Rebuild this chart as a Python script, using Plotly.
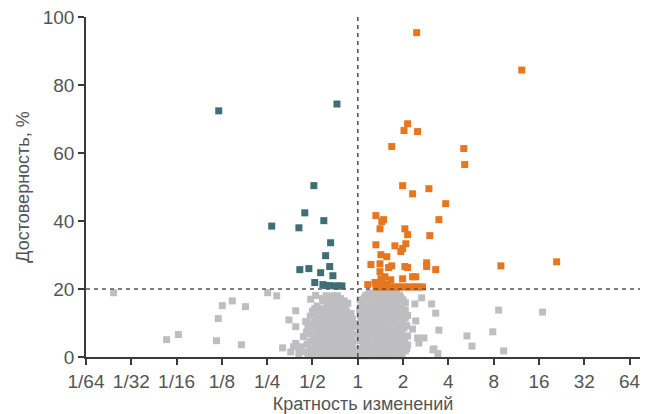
import plotly.graph_objects as go

# x values are log2 fold change, y values are reliability (%)
tick_vals = [-6, -5, -4, -3, -2, -1, 0, 1, 2, 3, 4, 5, 6]
tick_text = ["1/64", "1/32", "1/16", "1/8", "1/4", "1/2", "1", "2", "4", "8", "16", "32", "64"]
y_ticks = [0, 20, 40, 60, 80, 100]

teal_x = [-3.07, -0.46, -0.97, -1.17, -1.90, -1.30, -0.75, -0.60, -0.71, -1.28, -1.08, -0.62,
          -0.82, -0.55, -0.95, -0.77, -0.71, -0.62, -0.50, -0.42, -0.35]
teal_y = [72.4, 74.4, 50.4, 42.4, 38.5, 38.0, 40.1, 33.6, 29.8, 25.7, 26.0, 26.6,
          24.8, 23.9, 21.9, 21.3, 21.0, 21.0, 20.9, 20.9, 20.9]

orange_x = [1.30, 3.62, 1.10, 1.02, 1.32, 0.75, 2.34, 2.36, 0.99, 1.57, 1.21, 1.94,
            0.40, 0.57, 0.53, 1.79, 0.49, 1.04, 1.10, 1.59, 0.40, 0.82, 1.06, 0.99,
            0.95, 0.51, 0.64, 0.29, 0.49, 0.75, 0.68, 1.04, 1.10, 1.52, 1.52, 1.72,
            3.16, 4.39, 0.49, 0.60, 0.73, 0.51, 0.99, 1.21, 1.28, 0.22, 0.38,
            0.44, 0.55, 0.64,
            0.40, 0.48, 0.56, 0.64, 0.72, 0.80, 0.88, 0.96, 1.04, 1.12, 1.20, 1.28, 1.36, 1.43]
orange_y = [95.4, 84.4, 68.6, 66.6, 66.3, 61.9, 61.3, 56.6, 50.4, 49.5, 48.0, 45.1,
            41.6, 40.4, 39.8, 40.4, 37.7, 37.7, 36.0, 35.7, 33.0, 32.7, 33.3, 31.9,
            31.0, 30.1, 29.5, 27.2, 27.4, 26.8, 26.3, 26.6, 26.3, 27.7, 26.6, 25.7,
            26.8, 28.0, 25.1, 23.6, 22.7, 23.0, 23.0, 23.6, 23.6, 21.3, 21.9,
            21.4, 21.9, 21.4,
            20.6, 20.6, 20.6, 20.6, 20.6, 20.6, 20.6, 20.6, 20.6, 20.6, 20.6, 20.6, 20.6, 20.6]

# scattered non-significant points
gray_sparse_x = [-5.39, -4.22, -3.96, -3.12, -3.08, -2.99, -2.77, -2.48, -2.57, -1.99, -1.79,
                 -1.66, -1.37, -1.04, -0.93, -1.52, -1.37, -1.15, -1.13, -1.37, -1.48, -1.30,
                 -1.10, -1.42,
                 1.41, 1.26, 1.63, 1.72, 3.11, 4.08, 1.28, 1.79, 2.41, 2.98, 2.52, 3.22, 1.68,
                 1.77, 1.21, 1.32, 1.46, 1.35, 1.10, 1.66]
gray_sparse_y = [18.9, 5.1, 6.6, 4.8, 11.3, 15.1, 16.5, 14.8, 3.6, 18.9, 18.0,
                 2.7, 13.6, 17.0, 18.1, 10.9, 8.9, 10.4, 7.3, 4.0, 1.5, 2.5,
                 1.0, 3.0,
                 17.4, 15.6, 15.6, 12.9, 13.8, 13.2, 10.6, 7.9, 6.2, 7.4, 3.2, 1.8, 2.4,
                 1.0, 8.2, 5.6, 5.6, 4.1, 3.5, 2.1]

# dense non-significant cloud, listed row by row: (reliability, [log2 fold changes])
gray_cloud_rows = [
    (18.0, [-0.70, -0.55, -0.45]),
    (17.2, [-0.78, -0.62, -0.50, -0.38]),
    (16.5, [-0.75, -0.60, -0.40, -0.30]),
    (15.8, [-0.68, -0.52, -0.45, -0.22]),
    (15.0, [-0.90, -0.62, -0.48, -0.35]),
    (14.2, [-0.95, -0.77, -0.55, -0.41, -0.28]),
    (13.5, [-1.00, -0.85, -0.70, -0.55, -0.42, -0.25]),
    (12.8, [-0.92, -0.78, -0.62, -0.48, -0.32, -0.15]),
    (12.0, [-1.05, -0.80, -0.65, -0.50, -0.35, -0.20]),
    (11.2, [-0.88, -0.72, -0.57, -0.42, -0.27, -0.12]),
    (10.5, [-0.95, -0.78, -0.60, -0.45, -0.30, -0.15]),
    (9.8, [-1.02, -0.85, -0.68, -0.52, -0.37, -0.22, -0.08]),
    (9.0, [-1.10, -0.88, -0.70, -0.55, -0.40, -0.25, -0.10]),
    (8.2, [-0.95, -0.78, -0.62, -0.47, -0.32, -0.17]),
    (7.5, [-1.00, -0.82, -0.65, -0.50, -0.35, -0.20]),
    (6.8, [-1.08, -0.88, -0.72, -0.57, -0.42, -0.27, -0.10]),
    (6.0, [-1.20, -0.92, -0.75, -0.58, -0.45, -0.30, -0.15]),
    (5.2, [-0.98, -0.80, -0.63, -0.50, -0.35, -0.20]),
    (4.5, [-1.05, -0.85, -0.70, -0.55, -0.40, -0.25, -0.10]),
    (3.8, [-1.12, -0.90, -0.73, -0.58, -0.43, -0.28, -0.13]),
    (3.0, [-1.25, -0.95, -0.78, -0.62, -0.48, -0.33, -0.18]),
    (2.2, [-1.05, -0.83, -0.65, -0.52, -0.37, -0.22, -0.08]),
    (1.5, [-1.15, -0.88, -0.70, -0.55, -0.40, -0.25, -0.12]),
    (1.0, [-0.95, -0.75, -0.58, -0.42, -0.27, -0.08]),
    (0.5, [-1.30, -1.00, -0.80, -0.62, -0.45, -0.30, -0.15]),
    (18.8, [0.25, 0.40, 0.55, 0.70, 0.85]),
    (18.2, [0.18, 0.33, 0.48, 0.62, 0.78, 0.92]),
    (17.5, [0.15, 0.30, 0.48, 0.62, 0.78, 0.95]),
    (16.8, [0.05, 0.22, 0.40, 0.55, 0.70, 0.86, 1.00]),
    (16.0, [0.10, 0.22, 0.38, 0.55, 0.72, 0.88, 1.05]),
    (15.2, [0.15, 0.32, 0.48, 0.65, 0.82, 0.98]),
    (14.5, [0.08, 0.25, 0.42, 0.58, 0.75, 0.92]),
    (13.8, [0.04, 0.20, 0.37, 0.52, 0.68, 0.85, 1.05]),
    (13.0, [0.13, 0.30, 0.48, 0.65, 0.82, 1.00]),
    (12.2, [0.05, 0.22, 0.40, 0.57, 0.74, 0.92, 1.10]),
    (11.5, [0.08, 0.20, 0.38, 0.55, 0.72, 0.90, 1.05]),
    (10.8, [0.14, 0.30, 0.47, 0.64, 0.82, 1.00]),
    (10.0, [0.12, 0.28, 0.45, 0.62, 0.80, 0.98]),
    (9.2, [0.04, 0.20, 0.37, 0.53, 0.70, 0.88, 1.08]),
    (8.5, [0.06, 0.22, 0.38, 0.55, 0.72, 0.88, 1.02]),
    (7.8, [0.15, 0.32, 0.47, 0.63, 0.80, 0.95]),
    (7.0, [0.10, 0.30, 0.48, 0.65, 0.82, 0.96]),
    (6.2, [0.03, 0.22, 0.40, 0.58, 0.75, 0.92, 1.10]),
    (5.5, [0.05, 0.20, 0.38, 0.55, 0.72, 0.90, 1.04]),
    (4.8, [0.06, 0.22, 0.38, 0.55, 0.72, 0.88, 1.02]),
    (4.0, [0.12, 0.28, 0.45, 0.62, 0.80, 0.95]),
    (3.2, [0.14, 0.32, 0.50, 0.67, 0.85, 1.00]),
    (2.5, [0.06, 0.22, 0.40, 0.58, 0.75, 0.92, 1.08]),
    (1.8, [0.03, 0.18, 0.36, 0.52, 0.70, 0.88, 1.05]),
    (1.0, [0.10, 0.28, 0.45, 0.62, 0.80, 0.98]),
    (0.5, [0.14, 0.32, 0.50, 0.68, 0.86]),
    (0.3, [0.05, 0.20, 0.38, 0.55, 0.72, 0.90]),
]

gray_x = list(gray_sparse_x)
gray_y = list(gray_sparse_y)
for yv, xs in gray_cloud_rows:
    gray_x.extend(xs)
    gray_y.extend([yv] * len(xs))

GRAY = "#bebec1"
TEAL = "#3f6e75"
ORANGE = "#e6761f"
AXIS = "#3a3a3a"
TXT = "#555555"
FONT = "Liberation Sans"

fig = go.Figure()
for xs, ys, col in [(gray_x, gray_y, GRAY), (teal_x, teal_y, TEAL), (orange_x, orange_y, ORANGE)]:
    fig.add_trace(go.Scatter(x=xs, y=ys, mode="markers",
                             marker=dict(symbol="square", size=7, color=col, line=dict(width=0)),
                             showlegend=False, hoverinfo="x+y", cliponaxis=False))

X_MIN, X_MAX = -6, 6.23
# threshold lines
fig.add_shape(type="line", x0=0, x1=0, y0=0, y1=100, xref="x", yref="y",
              line=dict(color="#555555", width=1.6, dash="4px,4px"))
fig.add_shape(type="line", x0=X_MIN, x1=X_MAX, y0=20, y1=20, xref="x", yref="y",
              line=dict(color="#555555", width=1.6, dash="4px,4px"))

fig.update_layout(
    width=653, height=414,
    margin=dict(l=86, r=13, t=17, b=57),
    paper_bgcolor="white", plot_bgcolor="white",
    font=dict(family=FONT, size=19, color=TXT),
)
fig.update_xaxes(range=[X_MIN, X_MAX], tickvals=tick_vals, ticktext=tick_text, automargin=False,
                 showgrid=False, zeroline=False, showline=True, linecolor=AXIS, linewidth=1.5,
                 ticks="outside", ticklen=6, tickwidth=1.5, tickcolor=AXIS,
                 tickfont=dict(size=19, color=TXT),
                 title=dict(text="Кратность изменений", font=dict(size=18, color=TXT), standoff=8))
fig.update_yaxes(range=[0, 100], tickvals=y_ticks, automargin=False,
                 showgrid=False, zeroline=False, showline=True, linecolor=AXIS, linewidth=1.5,
                 ticks="outside", ticklen=6, tickwidth=1.5, tickcolor=AXIS,
                 tickfont=dict(size=19, color=TXT),
                 title=dict(text="Достоверность, %", font=dict(size=18, color=TXT), standoff=8))

fig.write_html("out.html", config={"displayModeBar": False},
               post_script="document.body.style.margin='0';")
